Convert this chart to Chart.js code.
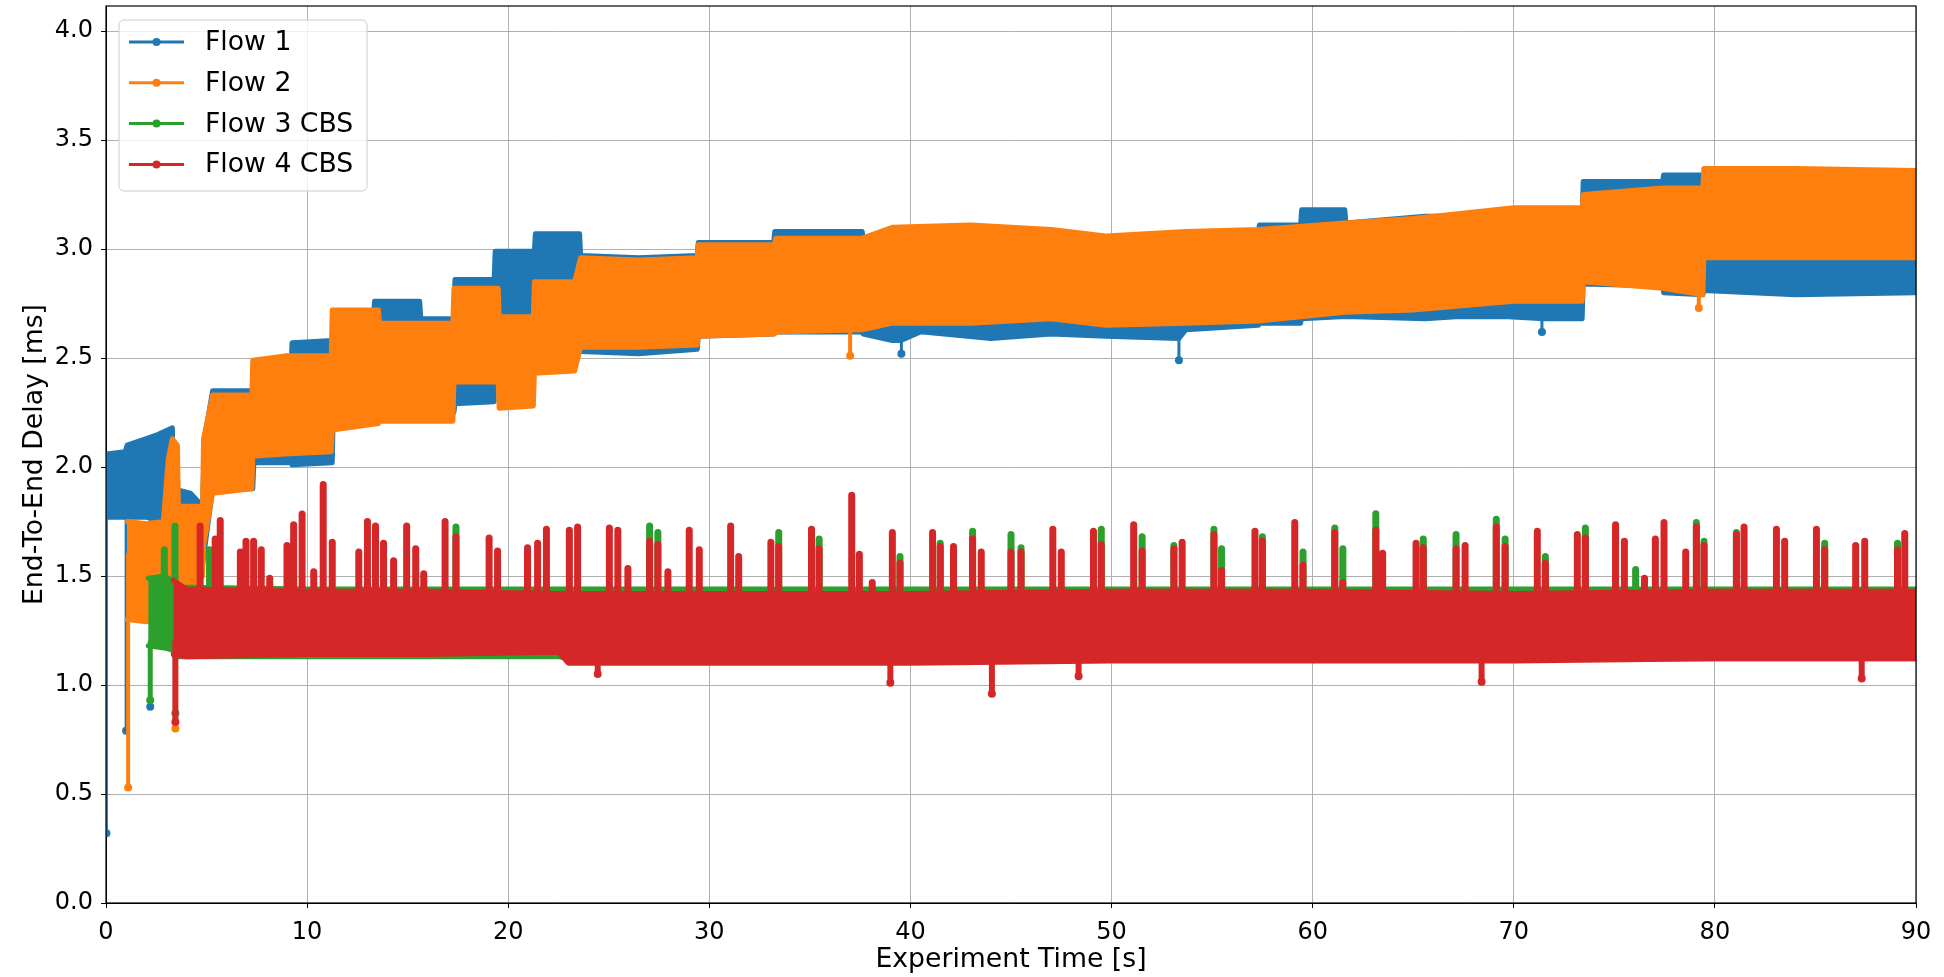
<!DOCTYPE html>
<html>
<head>
<meta charset="utf-8">
<title>End-To-End Delay</title>
<script src="https://cdn.jsdelivr.net/npm/chart.js@4.4.1/dist/chart.umd.min.js"></script>
<style>
  html, body { margin: 0; padding: 0; background: #fff; }
  #delayChart { display: block; }
</style>
</head>
<body>
<canvas id="delayChart" width="1944" height="977"></canvas>
<script>
// Axis ticks
const xTicks = [0, 10, 20, 30, 40, 50, 60, 70, 80, 90];
const yTicks = [0, 0.5, 1.0, 1.5, 2.0, 2.5, 3.0, 3.5, 4.0];

const flowLabels = ['Flow 1', 'Flow 2', 'Flow 3 CBS', 'Flow 4 CBS'];
const flowColors = ['#1f77b4', '#ff7f0e', '#2ca02c', '#d62728'];

// Flow 1: envelope of the noisy delay band (time [s], low/high [ms])
const flow1Time = [
  0, 0.95, 1.05, 2.0, 2.6, 3.3, 3.35, 4.2, 4.8, 4.9,
  5.3, 7.3, 7.35, 9.2, 9.25, 11.25, 11.3, 13.3, 13.35, 15.6,
  15.65, 17.3, 17.35, 19.3, 19.35, 21.3, 21.35, 23.55, 23.6, 26.5,
  29.4, 29.45, 33.2, 33.25, 37.6, 37.65, 39.1, 39.5, 40.5, 44,
  47, 49.7, 53.35, 53.7, 57.3, 57.35, 59.4, 59.45, 61.6, 61.65,
  65.6, 67.3, 69.5, 71.5, 73.4, 73.45, 77.4, 77.45, 79.4, 79.45,
  84, 90
];
const flow1High = [
  2.06, 2.07, 2.10, 2.13, 2.15, 2.18, 1.90, 1.88, 1.82, 2.13,
  2.35, 2.35, 2.45, 2.45, 2.57, 2.58, 2.68, 2.68, 2.76, 2.76,
  2.68, 2.68, 2.86, 2.86, 2.99, 2.99, 3.07, 3.07, 2.97, 2.96,
  2.97, 3.03, 3.03, 3.08, 3.08, 3.05, 3.05, 3.05, 3.06, 3.06,
  3.06, 3.05, 3.05, 3.07, 3.07, 3.11, 3.11, 3.18, 3.18, 3.12,
  3.15, 3.15, 3.15, 3.15, 3.15, 3.31, 3.31, 3.34, 3.34, 3.02,
  3.02, 3.02
];
const flow1Low = [
  1.77, 1.77, 1.77, 1.77, 1.76, 1.76, 1.55, 1.55, 1.55, 1.62,
  1.90, 1.90, 2.02, 2.02, 2.01, 2.02, 2.25, 2.25, 2.22, 2.22,
  2.23, 2.25, 2.29, 2.30, 2.56, 2.56, 2.56, 2.55, 2.53, 2.52,
  2.54, 2.60, 2.61, 2.62, 2.62, 2.61, 2.58, 2.58, 2.62, 2.59,
  2.61, 2.60, 2.59, 2.63, 2.65, 2.66, 2.66, 2.68, 2.69, 2.69,
  2.68, 2.69, 2.69, 2.68, 2.68, 2.84, 2.83, 2.80, 2.79, 2.81,
  2.79, 2.80
];
const flow1DipTime = [0.02, 1.0, 2.2, 39.55, 53.35, 71.4];
const flow1DipTop = [1.80, 1.80, 1.80, 2.62, 2.62, 2.70];
const flow1DipLow = [0.32, 0.79, 0.90, 2.52, 2.49, 2.62];

// Flow 2
const flow2Time = [
  1.05, 2.0, 2.85, 3.1, 3.3, 3.55, 3.6, 4.8, 4.85, 5.3,
  7.25, 7.3, 8.9, 11.2, 11.25, 13.55, 13.6, 17.25, 17.3, 19.5,
  19.55, 21.25, 21.3, 23.3, 23.6, 26.5, 29.4, 29.45, 33.25, 33.3,
  37.6, 39.1, 43, 47, 49.7, 53.7, 57.3, 61.6, 65, 70,
  73.4, 73.45, 77.4, 79.4, 79.45, 84, 90
];
const flow2High = [
  1.75, 1.74, 1.75, 2.04, 2.13, 2.10, 1.82, 1.82, 2.13, 2.33,
  2.33, 2.49, 2.51, 2.51, 2.72, 2.72, 2.66, 2.66, 2.82, 2.82,
  2.69, 2.69, 2.85, 2.85, 2.96, 2.95, 2.96, 3.02, 3.02, 3.05,
  3.05, 3.10, 3.11, 3.09, 3.06, 3.08, 3.09, 3.12, 3.14, 3.19,
  3.19, 3.25, 3.28, 3.28, 3.37, 3.37, 3.36
];
const flow2Low = [
  1.30, 1.29, 1.30, 1.30, 1.30, 1.30, 1.32, 1.50, 1.64, 1.88,
  1.90, 2.05, 2.06, 2.07, 2.17, 2.20, 2.21, 2.21, 2.39, 2.39,
  2.27, 2.28, 2.43, 2.44, 2.55, 2.55, 2.56, 2.60, 2.61, 2.62,
  2.63, 2.66, 2.66, 2.68, 2.65, 2.66, 2.67, 2.71, 2.72, 2.76,
  2.76, 2.85, 2.82, 2.79, 2.96, 2.96, 2.96
];
const flow2DipTime = [1.1, 3.45, 37.0, 79.2];
const flow2DipTop = [1.60, 1.40, 2.62, 2.80];
const flow2DipLow = [0.53, 0.80, 2.51, 2.73];

// Flow 3 CBS
const flow3Time = [2.1, 2.9, 3.3, 3.4, 10, 22.5, 23, 90];
const flow3High = [1.49, 1.50, 1.48, 1.45, 1.44, 1.44, 1.44, 1.44];
const flow3Low = [1.18, 1.17, 1.16, 1.13, 1.13, 1.13, 1.12, 1.12];
const flow3SpikeTime = [
  2.9, 3.43, 5.15, 17.4, 27.03, 27.44, 33.45, 35.46, 39.48, 41.48,
  43.09, 45.0, 45.5, 49.49, 51.52, 53.1, 55.09, 55.47, 57.5, 59.52,
  61.1, 61.5, 63.14, 65.5, 67.13, 69.13, 69.57, 71.57, 73.56, 76.06,
  79.08, 79.46, 81.07, 85.46, 89.08
];
const flow3SpikePeak = [
  1.62, 1.73, 1.62, 1.725, 1.73, 1.70, 1.70, 1.67, 1.59, 1.65,
  1.705, 1.69, 1.63, 1.715, 1.68, 1.64, 1.715, 1.625, 1.68, 1.61,
  1.72, 1.625, 1.786, 1.67, 1.69, 1.76, 1.67, 1.59, 1.72, 1.53,
  1.745, 1.66, 1.70, 1.65, 1.65
];
const flow3DipTime = [2.2, 3.45];
const flow3DipTop = [1.20, 1.20];
const flow3DipLow = [0.93, 0.87];

// Flow 4 CBS
const flow4Time = [3.35, 4, 10, 16, 22.5, 23, 30, 40, 50, 60, 70, 80, 90];
const flow4High = [1.48, 1.44, 1.43, 1.43, 1.42, 1.42, 1.42, 1.42, 1.43, 1.43, 1.42, 1.43, 1.43];
const flow4Low = [1.14, 1.13, 1.14, 1.14, 1.15, 1.10, 1.10, 1.10, 1.11, 1.11, 1.11, 1.12, 1.12];
const flow4SpikeTime = [
  4.68, 5.43, 5.68, 6.68, 6.96, 7.34, 7.72, 8.14, 9.0, 9.33,
  9.75, 10.33, 10.8, 11.25, 12.57, 13.0, 13.4, 13.8, 14.3, 14.95,
  15.4, 15.8, 16.86, 17.4, 19.05, 19.47, 20.96, 21.46, 21.9, 23.04,
  23.45, 25.03, 25.45, 25.95, 27.03, 27.44, 27.94, 29.0, 29.5, 31.06,
  31.46, 33.06, 33.45, 35.08, 35.46, 37.08, 37.46, 38.1, 39.1, 39.48,
  41.1, 41.48, 42.14, 43.09, 43.52, 45.0, 45.5, 47.08, 47.5, 49.1,
  49.49, 51.1, 51.52, 53.1, 53.51, 55.09, 55.47, 57.13, 57.5, 59.11,
  59.52, 61.1, 61.5, 63.14, 63.48, 65.14, 65.5, 67.13, 67.58, 69.13,
  69.57, 71.17, 71.57, 73.16, 73.56, 75.06, 75.5, 76.5, 77.04, 77.47,
  78.55, 79.08, 79.46, 81.07, 81.45, 83.06, 83.47, 85.05, 85.46, 87.0,
  87.45, 89.08, 89.44
];
const flow4SpikePeak = [
  1.73, 1.67, 1.755, 1.61, 1.66, 1.66, 1.62, 1.49, 1.64, 1.735,
  1.785, 1.52, 1.92, 1.655, 1.61, 1.75, 1.73, 1.65, 1.57, 1.73,
  1.625, 1.51, 1.75, 1.68, 1.675, 1.615, 1.63, 1.65, 1.715, 1.71,
  1.725, 1.72, 1.71, 1.535, 1.66, 1.645, 1.52, 1.71, 1.62, 1.73,
  1.59, 1.655, 1.635, 1.715, 1.625, 1.87, 1.60, 1.47, 1.70, 1.56,
  1.70, 1.635, 1.635, 1.67, 1.61, 1.61, 1.61, 1.715, 1.61, 1.705,
  1.645, 1.735, 1.615, 1.625, 1.655, 1.69, 1.525, 1.705, 1.66, 1.745,
  1.55, 1.70, 1.47, 1.71, 1.605, 1.65, 1.63, 1.625, 1.64, 1.725,
  1.635, 1.705, 1.56, 1.69, 1.675, 1.735, 1.66, 1.49, 1.67, 1.745,
  1.61, 1.725, 1.64, 1.69, 1.725, 1.715, 1.66, 1.715, 1.62, 1.64,
  1.66, 1.62, 1.695
];
const flow4DipTime = [3.45, 24.45, 39.0, 44.05, 48.36, 68.4, 87.3];
const flow4DipTop = [1.20, 1.12, 1.12, 1.12, 1.12, 1.12, 1.12];
const flow4DipLow = [0.83, 1.05, 1.01, 0.96, 1.04, 1.015, 1.03];

const spikeBase = 1.40;
const FONT = 'DejaVu Sans';

// Build {x, y} points for a band edge
function edge(times, values) {
    return times.map((t, i) => ({ x: t, y: values[i] }));
}

// Vertical segments separated by gaps
function segments(times, from, to) {
    const pts = [];
    times.forEach((t, i) => {
        const a = Array.isArray(from) ? from[i] : from;
        pts.push({ x: t, y: a }, { x: t, y: to[i] }, { x: t, y: null });
    });
    return pts;
}

function bandSets(times, low, high, color, order) {
    const common = {
        borderColor: color,
        backgroundColor: color,
        borderWidth: 5,
        borderJoinStyle: 'round',
        borderCapStyle: 'round',
        pointRadius: 0,
        clip: 0,
        order: order
    };
    return [
        Object.assign({ data: edge(times, low), fill: false }, common),
        Object.assign({ data: edge(times, high), fill: '-1' }, common)
    ];
}

function spikeSet(times, peaks, color, order) {
    return {
        data: segments(times, spikeBase, peaks),
        borderColor: color,
        backgroundColor: color,
        borderWidth: 7,
        borderCapStyle: 'round',
        pointRadius: 0,
        spanGaps: false,
        fill: false,
        clip: 0,
        order: order
    };
}

function dipSet(times, tops, lows, color, order, width) {
    return {
        data: segments(times, tops, lows),
        borderColor: color,
        backgroundColor: color,
        borderWidth: width,
        borderCapStyle: 'round',
        pointRadius: c => (c.dataIndex % 3 === 1 ? 4 : 0),
        pointBorderWidth: 0,
        spanGaps: false,
        fill: false,
        clip: 0,
        order: order
    };
}

const datasets = [
    ...bandSets(flow1Time, flow1Low, flow1High, flowColors[0], 4),
    dipSet(flow1DipTime, flow1DipTop, flow1DipLow, flowColors[0], 4, 3),
    ...bandSets(flow2Time, flow2Low, flow2High, flowColors[1], 3),
    dipSet(flow2DipTime, flow2DipTop, flow2DipLow, flowColors[1], 3, 4),
    ...bandSets(flow3Time, flow3Low, flow3High, flowColors[2], 2),
    spikeSet(flow3SpikeTime, flow3SpikePeak, flowColors[2], 2),
    dipSet(flow3DipTime, flow3DipTop, flow3DipLow, flowColors[2], 2, 5),
    ...bandSets(flow4Time, flow4Low, flow4High, flowColors[3], 1),
    spikeSet(flow4SpikeTime, flow4SpikePeak, flowColors[3], 1),
    dipSet(flow4DipTime, flow4DipTop, flow4DipLow, flowColors[3], 1, 6)
];

// Axes frame on top of the data (like matplotlib spines)
const frame = {
    id: 'frame',
    afterDatasetsDraw(chart) {
        const { ctx, chartArea: a } = chart;
        ctx.save();
        ctx.strokeStyle = '#000';
        ctx.lineWidth = 1.2;
        ctx.strokeRect(a.left, a.top, a.right - a.left, a.bottom - a.top);
        ctx.restore();
    }
};

// Legend box in the upper left corner of the plot
const legendBox = {
    id: 'legendBox',
    afterDraw(chart) {
        const { ctx, chartArea: a } = chart;
        const left = a.left + 13;
        const top = a.top + 14;
        ctx.save();
        ctx.beginPath();
        if (ctx.roundRect) {
            ctx.roundRect(left, top, 248, 171, 5);
        } else {
            ctx.rect(left, top, 248, 171);
        }
        ctx.fillStyle = 'rgba(255,255,255,0.8)';
        ctx.fill();
        ctx.strokeStyle = '#cccccc';
        ctx.lineWidth = 1;
        ctx.stroke();

        ctx.font = '26.7px "' + FONT + '"';
        ctx.textBaseline = 'middle';
        ctx.textAlign = 'left';
        flowLabels.forEach((label, i) => {
            const y = top + 22 + i * 40.8;
            ctx.strokeStyle = flowColors[i];
            ctx.lineWidth = 3;
            ctx.beginPath();
            ctx.moveTo(left + 10, y);
            ctx.lineTo(left + 65, y);
            ctx.stroke();
            ctx.fillStyle = flowColors[i];
            ctx.beginPath();
            ctx.arc(left + 37.5, y, 4, 0, Math.PI * 2);
            ctx.fill();
            ctx.fillStyle = '#000';
            ctx.fillText(label, left + 86, y + 1);
        });
        ctx.restore();
    }
};

new Chart(document.getElementById('delayChart'), {
    type: 'line',
    data: { datasets: datasets },
    options: {
        responsive: false,
        animation: false,
        devicePixelRatio: 1,
        events: [],
        layout: { autoPadding: false, padding: { top: 6, right: 28, left: 0, bottom: 0 } },
        plugins: {
            legend: { display: false },
            tooltip: { enabled: false }
        },
        elements: { line: { tension: 0 } },
        scales: {
            x: {
                type: 'linear',
                min: 0,
                max: 90,
                bounds: 'data',
                afterBuildTicks: s => { s.ticks = xTicks.map(v => ({ value: v })); },
                afterFit: s => {
                    s.height = 74;
                    s.paddingLeft = 0;
                    s.paddingRight = 0;
                },
                ticks: {
                    font: { family: FONT, size: 24 },
                    color: '#000',
                    padding: 10,
                    autoSkip: false,
                    maxRotation: 0,
                    callback: v => String(v)
                },
                grid: { color: '#b0b0b0', lineWidth: 1, tickColor: '#000', tickLength: 5, tickWidth: 1 },
                border: { color: '#000', width: 1 },
                title: {
                    display: true,
                    text: 'Experiment Time [s]',
                    font: { family: FONT, size: 26.7 },
                    color: '#000',
                    padding: { top: 0, bottom: 1 }
                }
            },
            y: {
                type: 'linear',
                min: 0,
                max: 4.115,
                bounds: 'data',
                afterBuildTicks: s => { s.ticks = yTicks.map(v => ({ value: v })); },
                afterFit: s => {
                    s.width = 106;
                    s.paddingTop = 0;
                    s.paddingBottom = 0;
                },
                ticks: {
                    font: { family: FONT, size: 24 },
                    color: '#000',
                    padding: 8,
                    autoSkip: false,
                    callback: v => v.toFixed(1)
                },
                grid: { color: '#b0b0b0', lineWidth: 1, tickColor: '#000', tickLength: 5, tickWidth: 1 },
                border: { color: '#000', width: 1 },
                title: {
                    display: true,
                    text: 'End-To-End Delay [ms]',
                    font: { family: FONT, size: 26.7 },
                    color: '#000',
                    padding: { top: 19, bottom: 0 }
                }
            }
        }
    },
    plugins: [frame, legendBox]
});
</script>
</body>
</html>
